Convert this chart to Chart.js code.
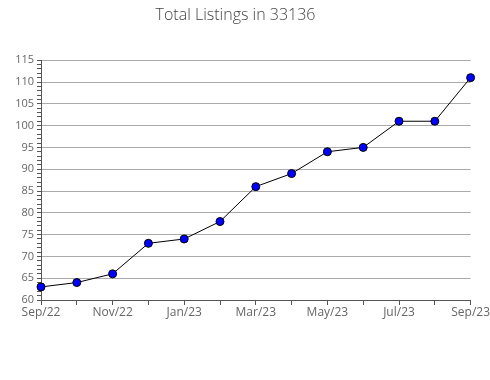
<!DOCTYPE html>
<html>
<head>
<meta charset="utf-8">
<script src="https://cdn.jsdelivr.net/npm/chart.js@4"></script>
<style>
  html, body { margin: 0; padding: 0; background: #fff; }
  #wrap { width: 490px; height: 380px; }
</style>
</head>
<body>
<div id="wrap"><canvas id="listings" width="490" height="380"></canvas></div>
<script>
const months = ['Sep/22', 'Oct/22', 'Nov/22', 'Dec/22', 'Jan/23', 'Feb/23', 'Mar/23',
                'Apr/23', 'May/23', 'Jun/23', 'Jul/23', 'Aug/23', 'Sep/23'];
const listings = [63, 64, 66, 73, 74, 78, 86, 89, 94, 95, 101, 101, 111];
const yMin = 60;
const yMax = 115;
const titleText = 'Total Listings in 33136';

function renderChart() {
    const ctx = document.getElementById('listings').getContext('2d');
    new Chart(ctx, {
        type: 'line',
        data: {
            labels: months,
            datasets: [{
                label: 'Total Listings',
                data: listings,
                borderColor: '#000',
                borderWidth: 1,
                backgroundColor: '#0000ff',
                pointBackgroundColor: '#0000ff',
                pointBorderColor: '#000',
                pointBorderWidth: 1,
                pointRadius: 4,
                tension: 0
            }]
        },
        options: {
            responsive: false,
            animation: false,
            layout: { padding: { left: 0, right: 19, top: 0, bottom: 45 } },
            plugins: {
                legend: { display: false },
                tooltip: { enabled: false },
                title: {
                    display: true,
                    text: titleText,
                    color: '#444',
                    font: { family: 'Open Sans', size: 16, weight: 300 },
                    padding: { top: 6, bottom: 35 }
                }
            },
            scales: {
                x: {
                    offset: false,
                    grid: {
                        drawOnChartArea: false,
                        drawTicks: true,
                        tickLength: 5,
                        tickColor: '#555'
                    },
                    border: { color: '#555', width: 1 },
                    ticks: {
                        autoSkip: false,
                        maxRotation: 0,
                        color: '#666',
                        font: { family: 'Open Sans', size: 12 },
                        padding: 0,
                        callback: function (val, i) { return i % 2 === 0 ? months[i] : ''; }
                    },
                    afterFit: function (scale) { scale.height = 35; }
                },
                y: {
                    min: yMin,
                    max: yMax,
                    grid: {
                        color: function (c) { return c.tick && c.tick.value % 5 === 0 && c.tick.value !== yMin ? '#aaa' : 'rgba(0,0,0,0)'; },
                        lineWidth: 1,
                        drawTicks: true,
                        tickLength: 4,
                        tickColor: '#555'
                    },
                    border: { color: '#555', width: 1 },
                    ticks: {
                        stepSize: 1,
                        autoSkip: false,
                        color: '#666',
                        font: { family: 'Open Sans', size: 11 },
                        padding: 3,
                        callback: function (v) { return v % 5 === 0 ? v : ''; }
                    },
                    afterFit: function (scale) { scale.width = 41; }
                }
            }
        }
    });
}

window.addEventListener('load', function () {
    renderChart();
});
</script>
</body>
</html>
